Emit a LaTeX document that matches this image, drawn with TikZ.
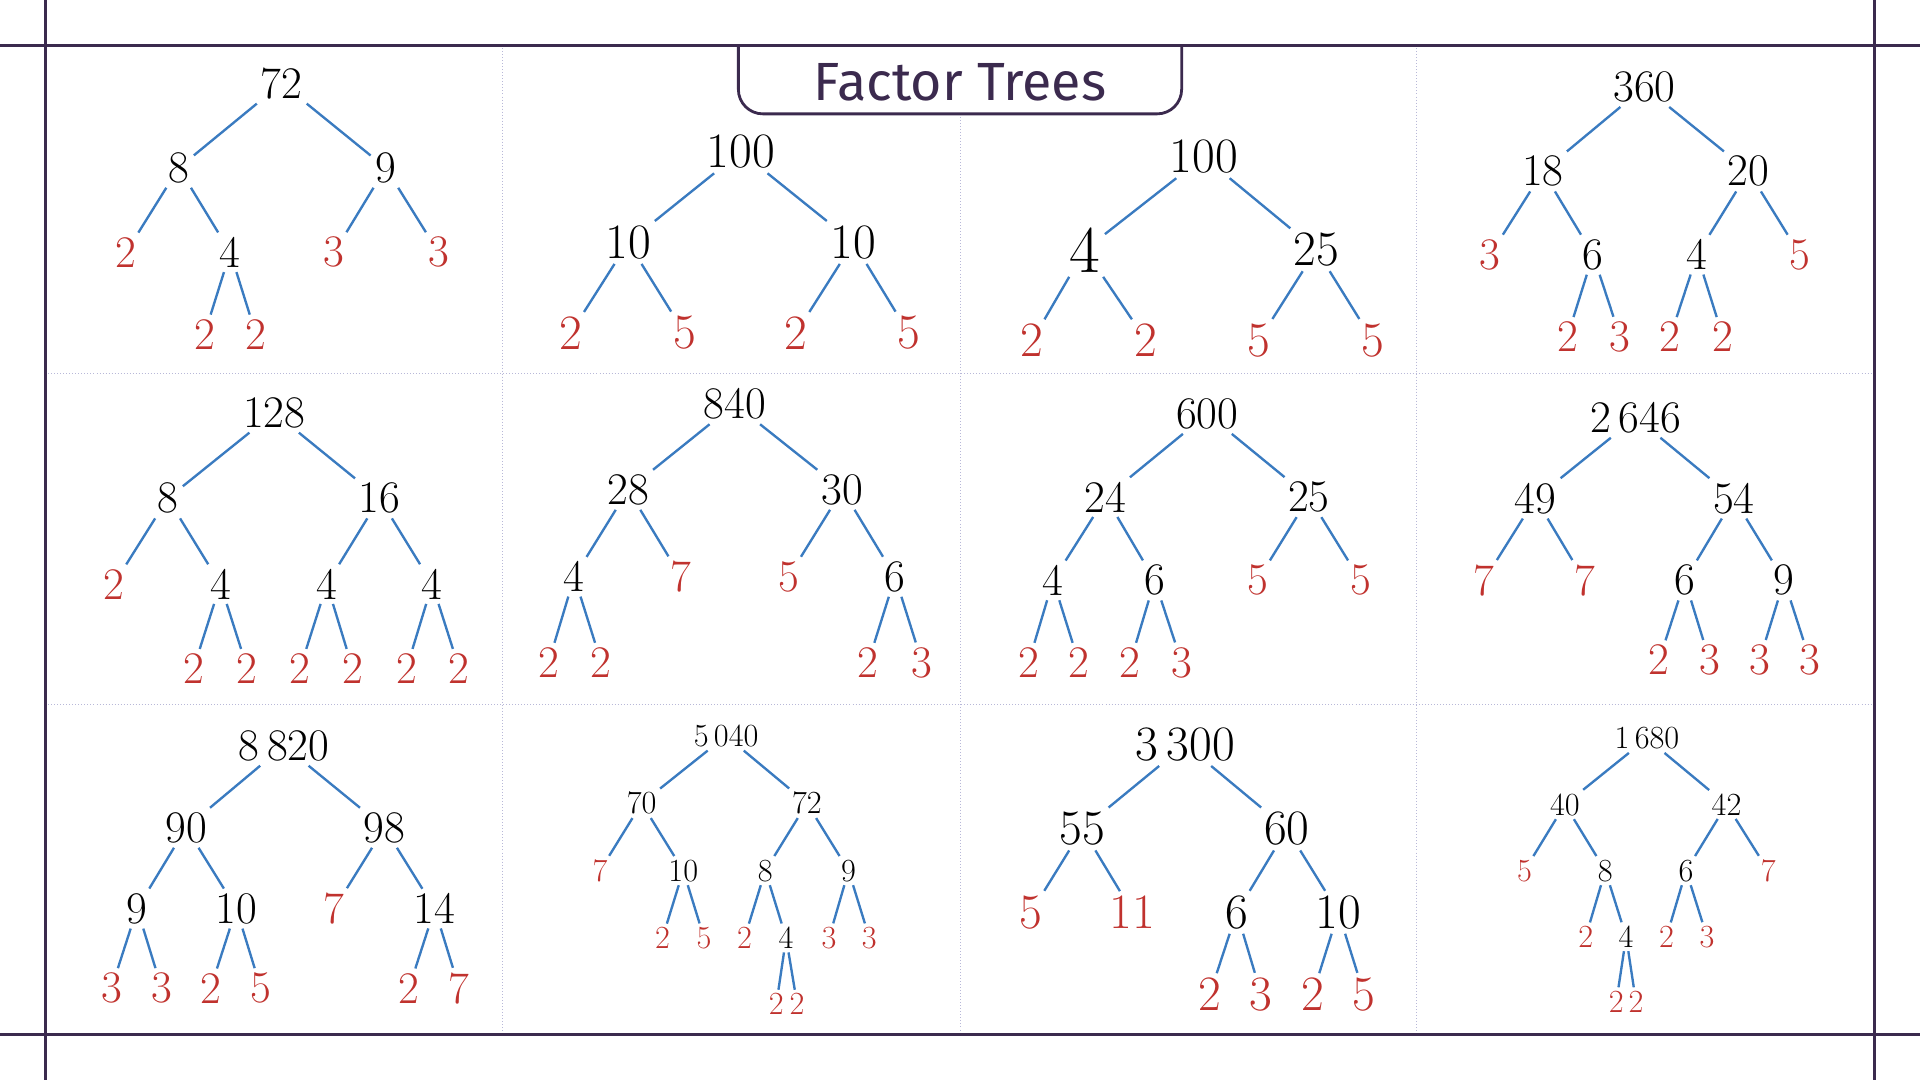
\documentclass[tikz,border=0pt]{standalone}
\usepackage{fontspec}
\newfontfamily\titlefont{Fira Sans}
\definecolor{frame}{HTML}{3B2A4E}
\definecolor{edge}{HTML}{3A7BC0}
\definecolor{rd}{HTML}{C0322E}
\definecolor{grid}{HTML}{B8B8D8}
\tikzset{
 n/.style={inner sep=2pt,font=\fontsize{21}{21}\selectfont},
 r/.style={n,text=rd},
 sn/.style={inner sep=1.5pt,font=\fontsize{15}{15}\selectfont},
 sr/.style={sn,text=rd},
 e/.style={draw=edge,line width=1.1pt},
}
\begin{document}
\begin{tikzpicture}[x=0.02cm,y=-0.02cm]
\useasboundingbox (0,0) rectangle (1568,882);
% grid
\draw[grid,densely dotted] (410,37)--(410,845) (784,93)--(784,845) (1157,37)--(1157,845) (37,305)--(1531,305) (37,575)--(1531,575);
% frame
\draw[frame,line width=1.3pt] (0,37)--(1568,37) (0,845)--(1568,845) (37,0)--(37,882) (1531,0)--(1531,882);
\draw[frame,line width=1.3pt,fill=white,rounded corners=0.4cm] (603,37)--(603,93)--(965,93)--(965,37);
\draw[frame,line width=1.3pt] (603,37)--(965,37);
\node[text=frame,font=\titlefont\fontsize{25}{25}\selectfont] (title) at (784,67) {Factor Trees};
% Tree 1
\node[n] (a0) at (230,68) {72};
\node[n] (a1) at (146,137) {8}; \node[n] (a2) at (315,137) {9};
\node[r] (a3) at (103,206) {2}; \node[n] (a4) at (188,206) {4};
\node[r] (a5) at (273,206) {3}; \node[r] (a6) at (358,206) {3};
\node[r] (a7) at (167,273) {2}; \node[r] (a8) at (209,273) {2};
\draw[e] (a0)--(a1) (a0)--(a2) (a1)--(a3) (a1)--(a4) (a2)--(a5) (a2)--(a6) (a4)--(a7) (a4)--(a8);
% Tree 2
\node[n,font=\fontsize{23}{23}\selectfont] (b0) at (605,124) {100};
\node[n,font=\fontsize{23}{23}\selectfont] (b1) at (513,198) {10}; \node[n,font=\fontsize{23}{23}\selectfont] (b2) at (697,198) {10};
\node[r,font=\fontsize{23}{23}\selectfont] (b3) at (466,272) {2}; \node[r,font=\fontsize{23}{23}\selectfont] (b4) at (559,272) {5};
\node[r,font=\fontsize{23}{23}\selectfont] (b5) at (650,272) {2}; \node[r,font=\fontsize{23}{23}\selectfont] (b6) at (742,272) {5};
\draw[e] (b0)--(b1) (b0)--(b2) (b1)--(b3) (b1)--(b4) (b2)--(b5) (b2)--(b6);
% Tree 3
\node[n,font=\fontsize{23}{23}\selectfont] (c0) at (983,128) {100};
\node[n,font=\fontsize{31}{31}\selectfont] (c1) at (886,204) {4}; \node[n,font=\fontsize{23}{23}\selectfont] (c2) at (1075,204) {25};
\node[r,font=\fontsize{23}{23}\selectfont] (c3) at (843,278) {2}; \node[r,font=\fontsize{23}{23}\selectfont] (c4) at (936,278) {2};
\node[r,font=\fontsize{23}{23}\selectfont] (c5) at (1028,278) {5}; \node[r,font=\fontsize{23}{23}\selectfont] (c6) at (1121,278) {5};
\draw[e] (c0)--(c1) (c0)--(c2) (c1)--(c3) (c1)--(c4) (c2)--(c5) (c2)--(c6);
% Tree 4
\node[n] (d0) at (1343,71) {360};
\node[n] (d1) at (1260,140) {18}; \node[n] (d2) at (1428,140) {20};
\node[r] (d3) at (1217,208) {3}; \node[n] (d4) at (1301,208) {6};
\node[n] (d5) at (1386,208) {4}; \node[r] (d6) at (1470,208) {5};
\node[r] (d7) at (1280,275) {2}; \node[r] (d8) at (1323,275) {3};
\node[r] (d9) at (1364,275) {2}; \node[r] (d10) at (1407,275) {2};
\draw[e] (d0)--(d1) (d0)--(d2) (d1)--(d3) (d1)--(d4) (d2)--(d5) (d2)--(d6) (d4)--(d7) (d4)--(d8) (d5)--(d9) (d5)--(d10);
% Tree 5
\node[n] (f0) at (224,337) {128};
\node[n] (f1) at (137,407) {8}; \node[n] (f2) at (310,407) {16};
\node[r] (f3) at (93,477) {2}; \node[n] (f4) at (180,477) {4};
\node[n] (f5) at (267,477) {4}; \node[n] (f6) at (353,477) {4};
\node[r] (f7) at (158,546) {2}; \node[r] (f8) at (202,546) {2};
\node[r] (f9) at (245,546) {2}; \node[r] (f10) at (288,546) {2};
\node[r] (f11) at (332,546) {2}; \node[r] (f12) at (375,546) {2};
\draw[e] (f0)--(f1) (f0)--(f2) (f1)--(f3) (f1)--(f4) (f2)--(f5) (f2)--(f6) (f4)--(f7) (f4)--(f8) (f5)--(f9) (f5)--(f10) (f6)--(f11) (f6)--(f12);
% Tree 6
\node[n] (g0) at (600,330) {840};
\node[n] (g1) at (513,400) {28}; \node[n] (g2) at (688,400) {30};
\node[n] (g3) at (469,471) {4}; \node[r] (g4) at (556,471) {7};
\node[r] (g5) at (644,471) {5}; \node[n] (g6) at (731,471) {6};
\node[r] (g7) at (448,541) {2}; \node[r] (g8) at (491,541) {2};
\node[r] (g9) at (709,541) {2}; \node[r] (g10) at (753,541) {3};
\draw[e] (g0)--(g1) (g0)--(g2) (g1)--(g3) (g1)--(g4) (g2)--(g5) (g2)--(g6) (g3)--(g7) (g3)--(g8) (g6)--(g9) (g6)--(g10);
% Tree 7
\node[n] (h0) at (986,338) {600};
\node[n] (h1) at (903,406) {24}; \node[n] (h2) at (1069,406) {25};
\node[n] (h3) at (860,474) {4}; \node[n] (h4) at (943,474) {6};
\node[r] (h5) at (1027,474) {5}; \node[r] (h6) at (1111,474) {5};
\node[r] (h7) at (840,541) {2}; \node[r] (h8) at (881,541) {2};
\node[r] (h9) at (923,541) {2}; \node[r] (h10) at (965,541) {3};
\draw[e] (h0)--(h1) (h0)--(h2) (h1)--(h3) (h1)--(h4) (h2)--(h5) (h2)--(h6) (h3)--(h7) (h3)--(h8) (h4)--(h9) (h4)--(h10);
% Tree 8
\node[n] (k0) at (1336,341) {2\,646};
\node[n] (k1) at (1254,407) {49}; \node[n] (k2) at (1416,407) {54};
\node[r] (k3) at (1212,474) {7}; \node[r] (k4) at (1294,474) {7};
\node[n] (k5) at (1376,474) {6}; \node[n] (k6) at (1457,474) {9};
\node[r] (k7) at (1355,539) {2}; \node[r] (k8) at (1396,539) {3};
\node[r] (k9) at (1437,539) {3}; \node[r] (k10) at (1478,539) {3};
\draw[e] (k0)--(k1) (k0)--(k2) (k1)--(k3) (k1)--(k4) (k2)--(k5) (k2)--(k6) (k5)--(k7) (k5)--(k8) (k6)--(k9) (k6)--(k10);
% Tree 9
\node[n] (m0) at (232,609) {8\,820};
\node[n] (m1) at (152,676) {90}; \node[n] (m2) at (314,676) {98};
\node[n] (m3) at (112,742) {9}; \node[n] (m4) at (193,742) {10};
\node[r] (m5) at (273,742) {7}; \node[n] (m6) at (355,742) {14};
\node[r] (m7) at (91,807) {3}; \node[r] (m8) at (132,807) {3};
\node[r] (m9) at (172,807) {2}; \node[r] (m10) at (213,807) {5};
\node[r] (m11) at (334,807) {2}; \node[r] (m12) at (375,807) {7};
\draw[e] (m0)--(m1) (m0)--(m2) (m1)--(m3) (m1)--(m4) (m2)--(m5) (m2)--(m6) (m3)--(m7) (m3)--(m8) (m4)--(m9) (m4)--(m10) (m6)--(m11) (m6)--(m12);
% Tree 10
\node[sn] (p0) at (593,601) {5\,040};
\node[sn] (p1) at (524,656) {70}; \node[sn] (p2) at (659,656) {72};
\node[sr] (p3) at (490,711) {7}; \node[sn] (p4) at (558,711) {10};
\node[sn] (p5) at (625,711) {8}; \node[sn] (p6) at (693,711) {9};
\node[sr] (p7) at (541,766) {2}; \node[sr] (p8) at (575,766) {5};
\node[sr] (p9) at (608,766) {2}; \node[sn] (p10) at (642,766) {4};
\node[sr] (p11) at (677,766) {3}; \node[sr] (p12) at (710,766) {3};
\node[sr] (p13) at (634,820) {2}; \node[sr] (p14) at (651,820) {2};
\draw[e] (p0)--(p1) (p0)--(p2) (p1)--(p3) (p1)--(p4) (p2)--(p5) (p2)--(p6) (p4)--(p7) (p4)--(p8) (p5)--(p9) (p5)--(p10) (p6)--(p11) (p6)--(p12) (p10)--(p13) (p10)--(p14);
% Tree 11
\node[n,font=\fontsize{23}{23}\selectfont] (q0) at (968,608) {3\,300};
\node[n,font=\fontsize{23}{23}\selectfont] (q1) at (884,677) {55}; \node[n,font=\fontsize{23}{23}\selectfont] (q2) at (1051,677) {60};
\node[r,font=\fontsize{23}{23}\selectfont] (q3) at (842,745) {5}; \node[r,font=\fontsize{23}{23}\selectfont] (q4) at (925,745) {11};
\node[n,font=\fontsize{23}{23}\selectfont] (q5) at (1010,745) {6}; \node[n,font=\fontsize{23}{23}\selectfont] (q6) at (1093,745) {10};
\node[r,font=\fontsize{23}{23}\selectfont] (q7) at (988,812) {2}; \node[r,font=\fontsize{23}{23}\selectfont] (q8) at (1030,812) {3};
\node[r,font=\fontsize{23}{23}\selectfont] (q9) at (1072,812) {2}; \node[r,font=\fontsize{23}{23}\selectfont] (q10) at (1114,812) {5};
\draw[e] (q0)--(q1) (q0)--(q2) (q1)--(q3) (q1)--(q4) (q2)--(q5) (q2)--(q6) (q5)--(q7) (q5)--(q8) (q6)--(q9) (q6)--(q10);
% Tree 12
\node[sn] (s0) at (1345,603) {1\,680};
\node[sn] (s1) at (1278,657) {40}; \node[sn] (s2) at (1410,657) {42};
\node[sr] (s3) at (1245,711) {5}; \node[sn] (s4) at (1311,711) {8};
\node[sn] (s5) at (1377,711) {6}; \node[sr] (s6) at (1444,711) {7};
\node[sr] (s7) at (1295,765) {2}; \node[sn] (s8) at (1328,765) {4};
\node[sr] (s9) at (1361,765) {2}; \node[sr] (s10) at (1394,765) {3};
\node[sr] (s11) at (1320,818) {2}; \node[sr] (s12) at (1336,818) {2};
\draw[e] (s0)--(s1) (s0)--(s2) (s1)--(s3) (s1)--(s4) (s2)--(s5) (s2)--(s6) (s4)--(s7) (s4)--(s8) (s5)--(s9) (s5)--(s10) (s8)--(s11) (s8)--(s12);
\end{tikzpicture}
\end{document}
